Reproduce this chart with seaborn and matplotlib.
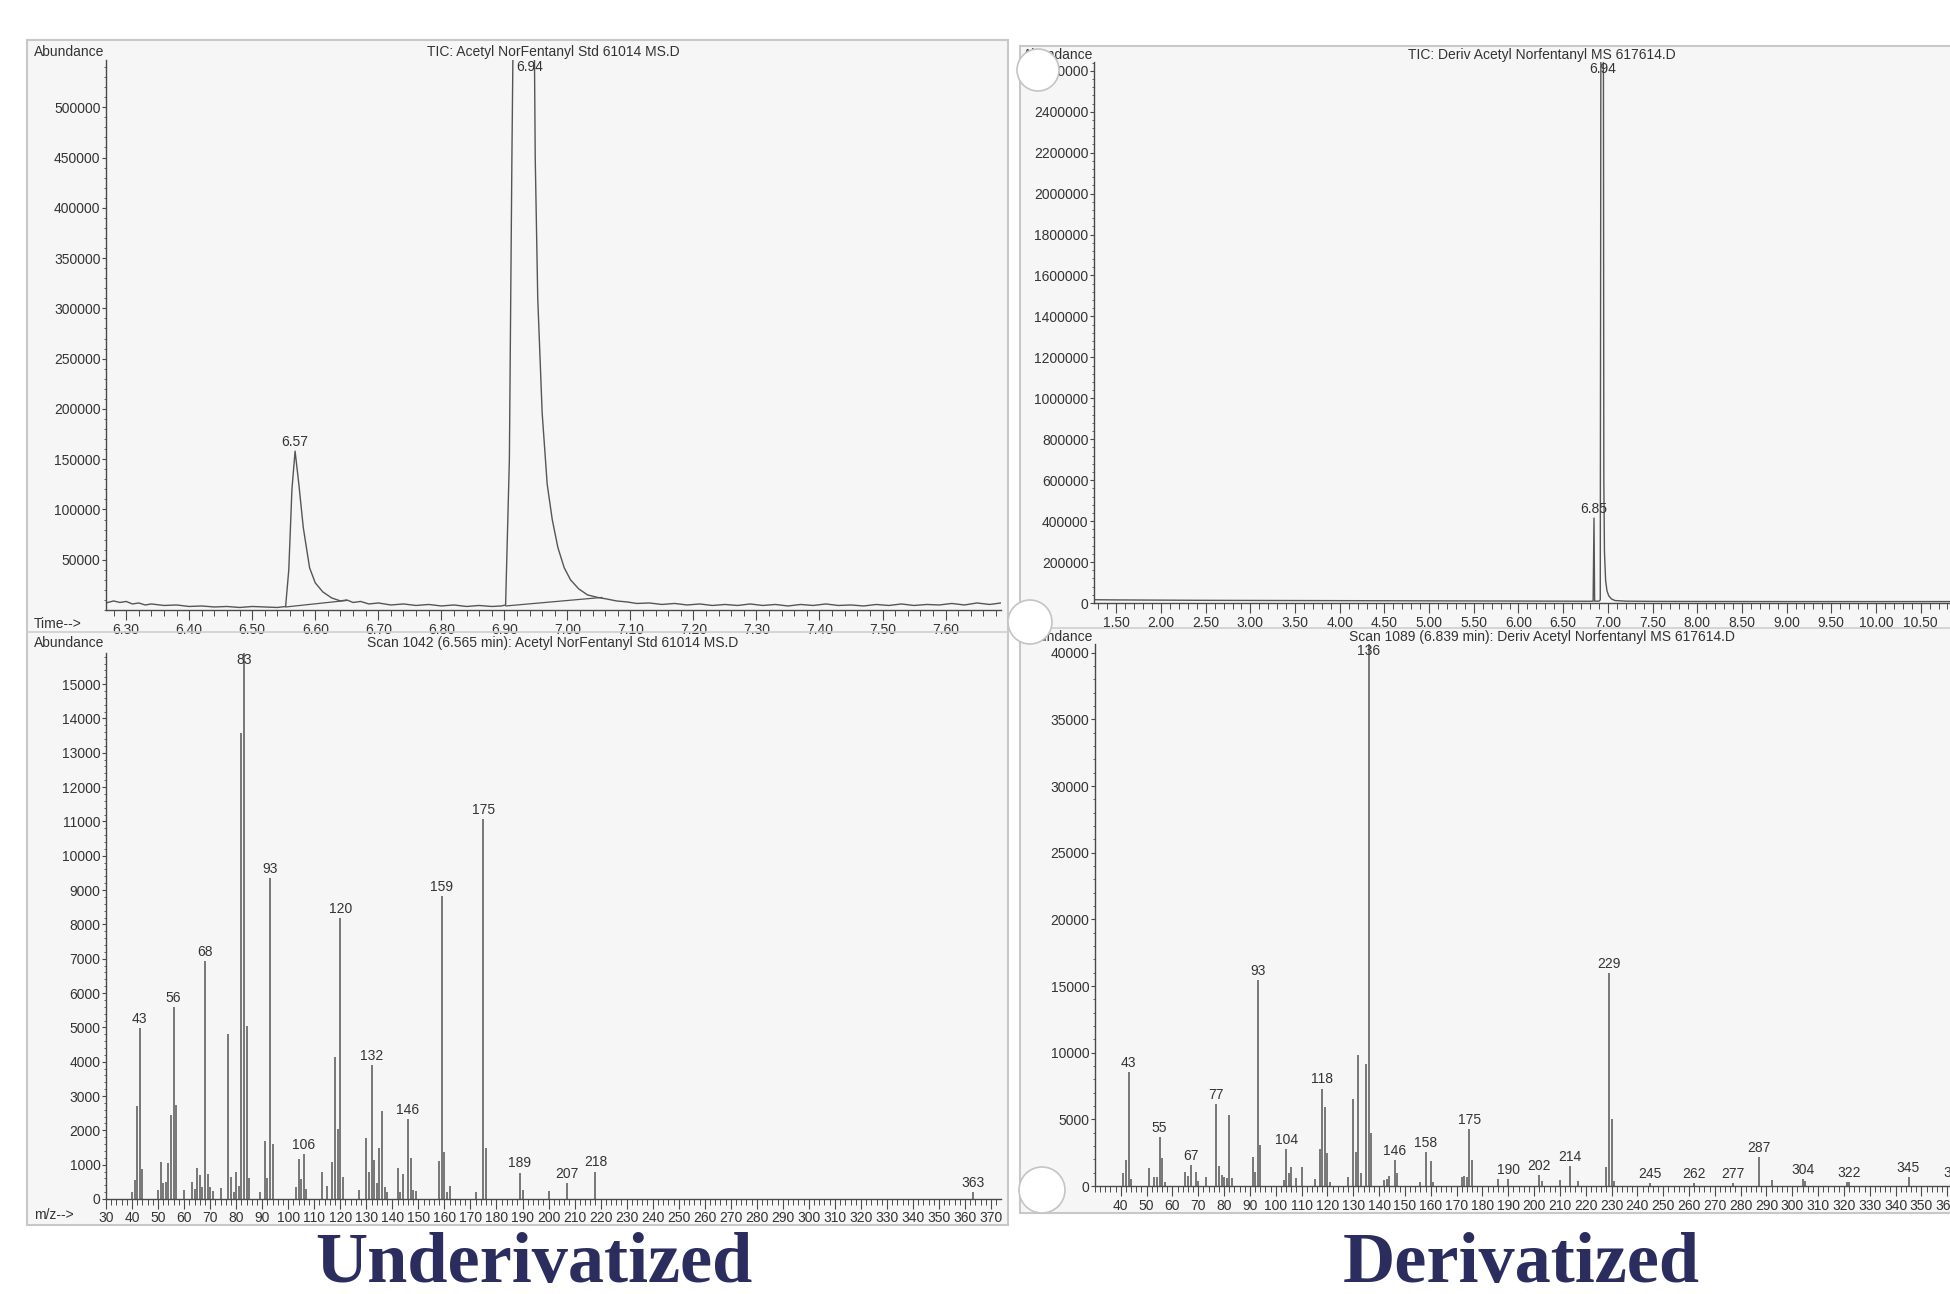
import numpy as np
import pandas as pd
import matplotlib
matplotlib.use("Agg")
import matplotlib.pyplot as plt
import seaborn as sns
from matplotlib.patches import Rectangle, Ellipse
from matplotlib.ticker import MultipleLocator

# ---------------- data ----------------
# TIC, underivatized (time in min, abundance)
tic_und_time = [6.268, 6.28, 6.29, 6.30, 6.31, 6.32, 6.33, 6.34, 6.36, 6.38,
                6.40, 6.42, 6.44, 6.46, 6.48, 6.50, 6.52, 6.54, 6.553, 6.558,
                6.563, 6.568, 6.574, 6.581, 6.591, 6.600, 6.612, 6.626, 6.640, 6.650,
                6.660, 6.672, 6.685, 6.70, 6.72, 6.74, 6.76, 6.78, 6.80, 6.82,
                6.84, 6.86, 6.88, 6.895, 6.902, 6.908, 6.912, 6.916, 6.930, 6.946,
                6.949, 6.953, 6.960, 6.968, 6.976, 6.985, 6.995, 7.005, 7.018, 7.032,
                7.048, 7.062, 7.078, 7.095, 7.11, 7.13, 7.15, 7.17, 7.19, 7.21,
                7.23, 7.25, 7.27, 7.29, 7.31, 7.33, 7.35, 7.37, 7.39, 7.41,
                7.43, 7.45, 7.47, 7.49, 7.51, 7.53, 7.55, 7.57, 7.59, 7.61,
                7.63, 7.65, 7.67, 7.688]
tic_und_abund = [7000, 9000, 7500, 8500, 6000, 7000, 5000, 6000, 4500, 5000,
                 3500, 4000, 3000, 3500, 2500, 3500, 3000, 2500, 3500, 40000,
                 120000, 158000, 125000, 82000, 42000, 27000, 18000, 12000, 9000, 10000,
                 7500, 8500, 6000, 7000, 5000, 6000, 4500, 5500, 4000, 5000,
                 3500, 4500, 3500, 4000, 5000, 150000, 450000, 700000, 900000, 700000,
                 450000, 310000, 196000, 125000, 90000, 62000, 42000, 30000, 21000, 15000,
                 12500, 11000, 9000, 8000, 6500, 7000, 5500, 6500, 5000, 6000,
                 4500, 5500, 4500, 6000, 4500, 5500, 4000, 5500, 4500, 6000,
                 4500, 5000, 4000, 5500, 4500, 6000, 4500, 5500, 5000, 6500,
                 5000, 7000, 5500, 7000]
und_base1_time = [6.553, 6.650]
und_base1_abund = [3000, 9500]
und_base2_time = [6.902, 7.055]
und_base2_abund = [4000, 12500]
tic_und_peak_rt = [6.568, 6.94]
tic_und_peak_ab = [158000, 900000]
tic_und_peak_txt = ["6.57", "6.94"]

# TIC, derivatized
tic_der_time = [1.25, 1.5, 2.0, 2.5, 3.0, 3.5, 4.0, 4.5, 5.0, 5.5,
                6.0, 6.5, 6.80, 6.835, 6.845, 6.852, 6.90, 6.915, 6.922, 6.940,
                6.950, 6.955, 6.962, 6.975, 6.99, 7.01, 7.04, 7.08, 7.2, 7.5,
                8.0, 9.0, 10.0, 11.0, 11.5]
tic_der_abund = [16000, 15000, 14000, 13000, 12500, 12000, 11500, 11000, 10500, 10000,
                 9500, 9000, 8500, 9000, 415000, 9000, 9000, 15000, 2800000, 3100000,
                 2800000, 600000, 250000, 110000, 60000, 35000, 20000, 12000, 9000, 8000,
                 7500, 7000, 7000, 7000, 7000]
tic_der_peak_rt = [6.845, 6.94]
tic_der_peak_ab = [415000, 3100000]
tic_der_peak_txt = ["6.85", "6.94"]

# mass spectrum, scan 1042 (underivatized)
ms_und_mz = [40, 41, 42, 43, 44, 50, 51, 52, 53, 54, 55, 56, 57, 60, 63, 64, 65, 66, 67, 68,
             69, 70, 71, 74, 77, 78, 79, 80, 81, 82, 83, 84, 85, 89, 91, 92, 93, 94, 103, 104,
             105, 106, 107, 113, 115, 117, 118, 119, 120, 121, 127, 130, 131, 132, 133, 134, 135, 136, 137, 138,
             142, 143, 144, 146, 147, 148, 149, 158, 159, 160, 161, 162, 172, 175, 176, 189, 190, 200, 207, 218,
             363]
ms_und_ab = [200, 560, 2700, 4980, 860, 250, 1080, 470, 490, 1050, 2450, 5580, 2750, 250, 490, 300, 890, 690, 340, 6930,
             720, 360, 220, 330, 4810, 640, 200, 780, 380, 13590, 15906, 5030, 600, 200, 1680, 600, 9340, 1600, 360, 1170,
             580, 1300, 300, 800, 380, 1080, 4150, 2030, 8190, 640, 250, 1770, 800, 3900, 1150, 470, 1480, 2560, 340, 200,
             910, 200, 720, 2340, 1190, 250, 220, 1100, 8820, 1380, 200, 380, 200, 11060, 1500, 770, 250, 230, 470, 800,
             200]
ms_und_labels = [43, 56, 68, 83, 93, 106, 120, 132, 146, 159, 175, 189, 207, 218, 363]

# mass spectrum, scan 1089 (derivatized)
ms_der_mz = [41, 42, 43, 44, 51, 53, 54, 55, 56, 57, 65, 66, 67, 69, 70, 73, 77, 78, 79, 80,
             81, 82, 83, 91, 92, 93, 94, 103, 104, 105, 106, 108, 110, 115, 117, 118, 119, 120, 121, 128,
             130, 131, 132, 133, 135, 136, 137, 142, 143, 144, 146, 147, 156, 158, 160, 161, 172, 173, 174, 175,
             176, 186, 190, 202, 203, 210, 214, 217, 228, 229, 230, 231, 245, 262, 277, 287, 292, 304, 305, 321,
             322, 345, 363]
ms_der_ab = [950, 1950, 8560, 500, 1320, 650, 700, 3690, 2070, 320, 1070, 750, 1570, 1070, 400, 650, 6140, 1500, 820, 650,
             570, 5320, 570, 2150, 1070, 15470, 3070, 450, 2750, 950, 1450, 570, 1400, 500, 2750, 7310, 5940, 2450, 320, 650,
             6560, 2570, 9810, 950, 9180, 40650, 4000, 450, 500, 770, 1950, 950, 320, 2570, 1870, 320, 700, 750, 700, 4270,
             1950, 500, 550, 820, 400, 450, 1500, 400, 1400, 15970, 5020, 400, 250, 250, 200, 2200, 450, 500, 400, 320,
             320, 650, 300]
ms_der_labels = [43, 55, 67, 77, 93, 104, 118, 136, 146, 158, 175, 190, 202, 214, 229,
                 245, 262, 277, 287, 304, 322, 345, 363]

# ---------------- style ----------------
sns.set_theme(style="white")
plt.rcParams['font.family'] = ['Liberation Sans', 'DejaVu Sans']

INK = "#4a4a4a"
TXT = "#333333"
NAVY = "#2b2d5e"
FS = 10

W, H = 1950, 1294
fig = plt.figure(figsize=(W / 100, H / 100), dpi=100, facecolor="white")


def fx(px):
    return px / W


def fy(py):
    return 1 - py / H


def add_box(x0, y0, x1, y1):
    r = Rectangle((fx(x0), fy(y1)), fx(x1) - fx(x0), fy(y0) - fy(y1), transform=fig.transFigure,
                  facecolor="#f6f6f6", edgecolor="#c8c8c8", lw=1.5, zorder=-2)
    fig.patches.append(r)
    return r


def add_axes(x0, x1, ytop, ybase):
    ax = fig.add_axes([fx(x0), fy(ybase), fx(x1) - fx(x0), (ybase - ytop) / H])
    ax.set_facecolor("none")
    return ax


def style_axis(ax, xlim, ylim, xticks, xfmt, xminor, yticks, yminor):
    ax.set_xlim(*xlim)
    ax.set_ylim(*ylim)
    for s in ["top", "right"]:
        ax.spines[s].set_visible(False)
    for s in ["left", "bottom"]:
        ax.spines[s].set_color(INK)
        ax.spines[s].set_linewidth(1.0)
    ax.set_xticks(xticks)
    ax.set_xticklabels([xfmt.format(v) for v in xticks])
    ax.xaxis.set_minor_locator(MultipleLocator(xminor))
    ax.set_yticks(yticks)
    ax.set_yticklabels([str(v) for v in yticks])
    ax.yaxis.set_minor_locator(MultipleLocator(yminor))
    ax.tick_params(bottom=True, left=True, which="both")
    ax.tick_params(axis="x", which="major", direction="out", length=7, width=0.8, color=INK,
                   labelsize=FS, labelcolor=TXT, pad=2)
    ax.tick_params(axis="x", which="minor", direction="out", length=4, width=0.7, color=INK)
    ax.tick_params(axis="y", which="major", direction="out", length=3, width=0.8, color=INK,
                   labelsize=FS, labelcolor=TXT, pad=1)
    ax.tick_params(axis="y", which="minor", direction="out", length=1.5, width=0.6, color=INK)
    ax.set_xlabel("")
    ax.set_ylabel("")


def label_peaks(ax, xs, ys, texts, top):
    for x, y, t in zip(xs, ys, texts):
        if y >= top:
            ax.text(x, top, t, ha="center", va="top", fontsize=FS, color=TXT)
        else:
            ax.annotate(t, (x, y), xytext=(0, 1.5), textcoords="offset points",
                        ha="center", va="bottom", fontsize=FS, color=TXT)


# report frames
box_l = add_box(27, 40, 1008, 1225)
box_r = add_box(1020, 46, 1965, 1213)
fig.add_artist(plt.Line2D([fx(27), fx(1008)], [fy(632), fy(632)], transform=fig.transFigure,
                          color="#cfcfcf", lw=1.2))
fig.add_artist(plt.Line2D([fx(1020), fx(1965)], [fy(628), fy(628)], transform=fig.transFigure,
                          color="#cfcfcf", lw=1.2))

# ---------------- TIC underivatized ----------------
ax1 = add_axes(106, 1001, 60, 610)
df1 = pd.DataFrame({"time": tic_und_time, "abund": tic_und_abund})
sns.lineplot(data=df1, x="time", y="abund", ax=ax1, color="#555555", lw=1.0, estimator=None, sort=False)
ax1.plot(und_base1_time, und_base1_abund, color="#555555", lw=0.9)
ax1.plot(und_base2_time, und_base2_abund, color="#555555", lw=0.9)
top1 = 547000
style_axis(ax1, (6.268, 7.688), (0, top1), [round(6.30 + 0.1 * i, 2) for i in range(14)], "{:.2f}", 0.02,
           list(range(50000, 500001, 50000)), 10000)
label_peaks(ax1, tic_und_peak_rt, tic_und_peak_ab, tic_und_peak_txt, top1)

# ---------------- MS underivatized ----------------
ax2 = add_axes(106, 1001, 653, 1199)
ax2.vlines(ms_und_mz, 0, ms_und_ab, color="#555555", lw=1.1)
top2 = 15906
style_axis(ax2, (30, 373.8), (0, top2), list(range(30, 371, 10)), "{}", 2,
           list(range(0, 15001, 1000)), 200)
und_lookup = dict(zip(ms_und_mz, ms_und_ab))
label_peaks(ax2, ms_und_labels, [und_lookup[m] for m in ms_und_labels], [str(m) for m in ms_und_labels], top2)

# ---------------- TIC derivatized ----------------
ax3 = add_axes(1094, 2010, 62, 603)
df3 = pd.DataFrame({"time": tic_der_time, "abund": tic_der_abund})
sns.lineplot(data=df3, x="time", y="abund", ax=ax3, color="#555555", lw=1.0, estimator=None, sort=False)
top3 = 2643000
style_axis(ax3, (1.25, 11.5), (0, top3), [1.5 + 0.5 * i for i in range(19)], "{:.2f}", 0.1,
           list(range(0, 2600001, 200000)), 40000)
label_peaks(ax3, tic_der_peak_rt, tic_der_peak_ab, tic_der_peak_txt, top3)

# ---------------- MS derivatized ----------------
ax4 = add_axes(1095, 1986, 644, 1186)
ax4.vlines(ms_der_mz, 0, ms_der_ab, color="#555555", lw=1.1)
top4 = 40650
style_axis(ax4, (30, 375), (0, top4), list(range(40, 361, 10)), "{}", 2,
           list(range(0, 40001, 5000)), 1000)
der_lookup = dict(zip(ms_der_mz, ms_der_ab))
label_peaks(ax4, ms_der_labels, [der_lookup[m] for m in ms_der_labels], [str(m) for m in ms_der_labels], top4)

# ---------------- header texts ----------------
tk = dict(fontsize=FS, color=TXT, va="center")
fig.text(fx(34), fy(52), "Abundance", ha="left", **tk)
fig.text(fx(553), fy(52), "TIC: Acetyl NorFentanyl Std 61014 MS.D", ha="center", **tk)
fig.text(fx(34), fy(624), "Time-->", ha="left", **tk)
fig.text(fx(34), fy(643), "Abundance", ha="left", **tk)
fig.text(fx(553), fy(643), "Scan 1042 (6.565 min): Acetyl NorFentanyl Std 61014 MS.D", ha="center", **tk)
fig.text(fx(34), fy(1215), "m/z-->", ha="left", **tk)

fig.text(fx(1093), fy(55), "Abundance", ha="right", **tk)
fig.text(fx(1542), fy(55), "TIC: Deriv Acetyl Norfentanyl MS 617614.D", ha="center", **tk)
t = fig.text(fx(1040), fy(619), "Time-->", ha="right", **tk)
t.set_clip_path(box_r)
fig.text(fx(1093), fy(637), "Abundance", ha="right", **tk)
fig.text(fx(1542), fy(637), "Scan 1089 (6.839 min): Deriv Acetyl Norfentanyl MS 617614.D", ha="center", **tk)

# hole-punch shadows on the right scan
for cx, cy, r in [(1038, 70, 21), (1030, 622, 22), (1042, 1190, 23)]:
    fig.patches.append(Ellipse((fx(cx), fy(cy)), 2 * r / W, 2 * r / H, transform=fig.transFigure,
                               facecolor="white", edgecolor="#c4c4c4", lw=1.2, zorder=10))

# ---------------- captions ----------------
cap = dict(fontsize=52, color=NAVY, fontweight="bold", va="baseline", ha="center",
           family=["Liberation Serif", "DejaVu Serif"])
fig.text(fx(534), fy(1282), "Underivatized", **cap)
fig.text(fx(1521), fy(1282), "Derivatized", **cap)

fig.savefig("out.png", dpi=100, facecolor="white")
